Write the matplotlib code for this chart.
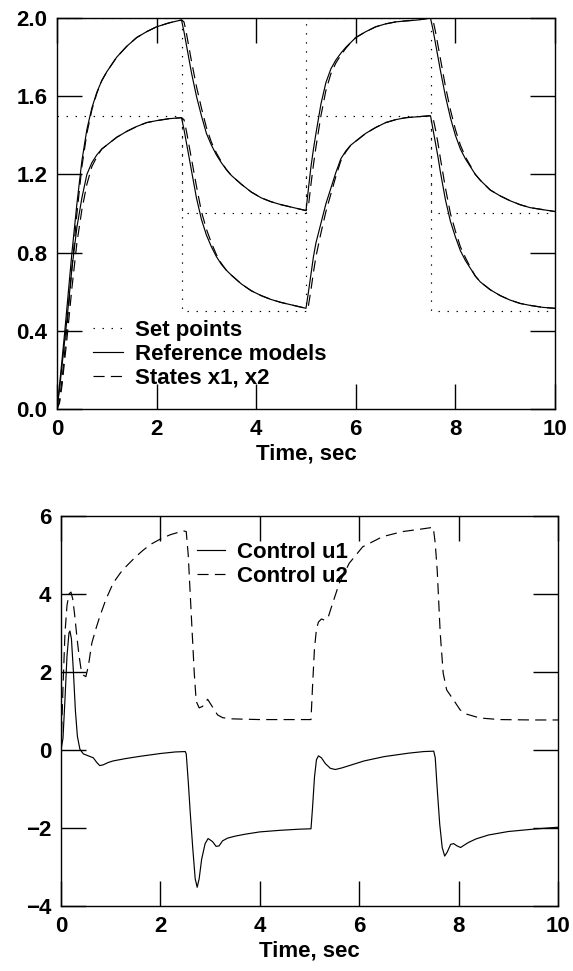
import matplotlib
matplotlib.use("Agg")
import matplotlib.pyplot as plt
from matplotlib.ticker import FixedLocator, FuncFormatter

plt.rcParams['font.family'] = ['Liberation Sans', 'DejaVu Sans']
plt.rcParams['lines.scale_dashes'] = False

# ---------------- top panel data ----------------
t_top = [0, 0.05, 0.1, 0.15, 0.2, 0.3, 0.4, 0.5, 0.6, 0.7, 0.8, 0.9, 1.0, 1.2, 1.4, 1.6, 1.8, 2.0, 2.25,
         2.5, 2.55, 2.6, 2.65, 2.7, 2.8, 2.9, 3.0, 3.1, 3.2, 3.3, 3.4, 3.5, 3.7, 3.9, 4.1, 4.3, 4.5, 4.75,
         5.0, 5.05, 5.1, 5.15, 5.2, 5.3, 5.4, 5.5, 5.6, 5.7, 5.8, 5.9, 6.0, 6.2, 6.4, 6.6, 6.8, 7.0, 7.25,
         7.5, 7.55, 7.6, 7.65, 7.7, 7.8, 7.9, 8.0, 8.1, 8.2, 8.3, 8.4, 8.5, 8.7, 8.9, 9.1, 9.3, 9.5, 9.75, 10.0]

ref_x1 = [0, 0.12, 0.25, 0.38, 0.52, 0.80, 1.05, 1.27, 1.43, 1.54, 1.62, 1.68, 1.725, 1.80, 1.855, 1.90, 1.93, 1.955, 1.975,
          1.99, 1.93, 1.86, 1.79, 1.72, 1.60, 1.50, 1.41, 1.35, 1.30, 1.26, 1.225, 1.195, 1.15, 1.11, 1.08, 1.06, 1.045, 1.03,
          1.015, 1.13, 1.24, 1.33, 1.41, 1.56, 1.67, 1.74, 1.785, 1.82, 1.85, 1.875, 1.90, 1.93, 1.955, 1.97, 1.98, 1.985, 1.99,
          2.0, 1.94, 1.87, 1.80, 1.73, 1.60, 1.49, 1.40, 1.33, 1.28, 1.24, 1.20, 1.17, 1.12, 1.09, 1.065, 1.045, 1.03, 1.02, 1.01]

ref_x2 = [0, 0.10, 0.22, 0.34, 0.46, 0.72, 0.93, 1.08, 1.20, 1.26, 1.30, 1.33, 1.35, 1.39, 1.42, 1.445, 1.465, 1.475, 1.485,
          1.49, 1.43, 1.36, 1.29, 1.22, 1.08, 0.97, 0.89, 0.83, 0.78, 0.74, 0.71, 0.685, 0.64, 0.605, 0.58, 0.56, 0.545, 0.53,
          0.515, 0.60, 0.69, 0.78, 0.85, 0.95, 1.05, 1.13, 1.21, 1.28, 1.32, 1.35, 1.37, 1.41, 1.44, 1.465, 1.48, 1.49, 1.495,
          1.50, 1.43, 1.36, 1.29, 1.21, 1.07, 0.96, 0.88, 0.81, 0.76, 0.72, 0.68, 0.65, 0.61, 0.58, 0.557, 0.54, 0.53, 0.52, 0.515]

state_x1 = [0, 0.04, 0.15, 0.28, 0.42, 0.72, 1.00, 1.24, 1.41, 1.53, 1.615, 1.68, 1.725, 1.80, 1.855, 1.90, 1.93, 1.955, 1.975,
            1.99, 1.98, 1.92, 1.85, 1.78, 1.65, 1.54, 1.44, 1.365, 1.31, 1.265, 1.225, 1.195, 1.15, 1.11, 1.08, 1.06, 1.045, 1.03,
            1.015, 1.04, 1.15, 1.25, 1.34, 1.50, 1.63, 1.715, 1.77, 1.81, 1.845, 1.875, 1.90, 1.93, 1.955, 1.97, 1.98, 1.985, 1.99,
            2.0, 1.99, 1.93, 1.86, 1.79, 1.65, 1.53, 1.43, 1.35, 1.29, 1.245, 1.20, 1.17, 1.12, 1.09, 1.065, 1.045, 1.03, 1.02, 1.01]

state_x2 = [0, 0.03, 0.12, 0.24, 0.36, 0.62, 0.85, 1.02, 1.15, 1.24, 1.29, 1.33, 1.35, 1.39, 1.42, 1.445, 1.465, 1.475, 1.485,
            1.49, 1.48, 1.42, 1.35, 1.28, 1.14, 1.01, 0.92, 0.85, 0.79, 0.745, 0.71, 0.685, 0.64, 0.605, 0.58, 0.56, 0.545, 0.53,
            0.515, 0.53, 0.61, 0.70, 0.78, 0.90, 1.01, 1.10, 1.19, 1.27, 1.315, 1.35, 1.37, 1.41, 1.44, 1.465, 1.48, 1.49, 1.495,
            1.50, 1.49, 1.43, 1.36, 1.28, 1.13, 1.00, 0.91, 0.83, 0.775, 0.725, 0.68, 0.65, 0.61, 0.58, 0.557, 0.54, 0.53, 0.52, 0.515]

t_sp = [0, 2.5, 2.5, 5, 5, 7.5, 7.5, 10]
sp_x1 = [2.0, 2.0, 1.0, 1.0, 2.0, 2.0, 1.0, 1.0]
sp_x2 = [1.5, 1.5, 0.5, 0.5, 1.5, 1.5, 0.5, 0.5]

# ---------------- bottom panel data ----------------
t_u1 = [0, 0.04, 0.08, 0.12, 0.16, 0.18, 0.21, 0.25, 0.29, 0.33, 0.38, 0.45, 0.55, 0.65, 0.72, 0.78, 0.85, 0.95, 1.05, 1.3, 1.6, 2.0, 2.3, 2.5,
        2.52, 2.56, 2.6, 2.65, 2.7, 2.74, 2.78, 2.83, 2.9, 2.96, 3.05, 3.12, 3.18, 3.25, 3.35, 3.5, 3.7, 4.0, 4.4, 4.8, 5.03,
        5.06, 5.1, 5.14, 5.18, 5.24, 5.32, 5.42, 5.52, 5.65, 5.85, 6.1, 6.5, 7.0, 7.3, 7.5,
        7.53, 7.57, 7.62, 7.67, 7.72, 7.77, 7.84, 7.9, 7.97, 8.04, 8.1, 8.2, 8.35, 8.6, 9.0, 9.5, 10.0]
u1 = [0, 0.3, 1.3, 2.4, 3.0, 3.05, 2.85, 2.0, 1.0, 0.35, 0.02, -0.1, -0.15, -0.2, -0.32, -0.4, -0.38, -0.32, -0.28, -0.22, -0.16, -0.09, -0.05, -0.04,
      -0.1, -0.8, -1.6, -2.5, -3.3, -3.52, -3.3, -2.8, -2.4, -2.27, -2.35, -2.47, -2.46, -2.33, -2.26, -2.21, -2.16, -2.1, -2.06, -2.03, -2.02,
      -1.5, -0.7, -0.25, -0.15, -0.2, -0.35, -0.47, -0.5, -0.46, -0.38, -0.28, -0.17, -0.08, -0.04, -0.03,
      -0.2, -1.0, -1.9, -2.5, -2.72, -2.62, -2.42, -2.4, -2.46, -2.5, -2.45, -2.37, -2.28, -2.18, -2.09, -2.03, -1.98]

t_u2 = [0, 0.04, 0.08, 0.12, 0.16, 0.2, 0.24, 0.28, 0.32, 0.36, 0.4, 0.45, 0.5, 0.55, 0.62, 0.7, 0.78, 0.9, 1.05, 1.2, 1.32, 1.5, 1.65, 1.8, 2.0, 2.2, 2.46, 2.52,
        2.56, 2.6, 2.64, 2.68, 2.72, 2.78, 2.85, 2.95, 3.05, 3.15, 3.25, 3.4, 4.0, 4.6, 5.03,
        5.06, 5.1, 5.14, 5.18, 5.24, 5.3, 5.37, 5.45, 5.6, 5.8, 6.07, 6.47, 6.87, 7.22, 7.49,
        7.53, 7.57, 7.63, 7.69, 7.76, 7.9, 8.03, 8.16, 8.43, 8.83, 9.5, 10.0]
u2 = [0.0, 1.6, 3.0, 3.7, 4.0, 4.05, 3.85, 3.4, 2.9, 2.45, 2.1, 1.92, 1.88, 2.15, 2.74, 3.1, 3.42, 3.85, 4.28, 4.55, 4.72, 4.95, 5.12, 5.27, 5.41, 5.52, 5.62, 5.6,
      5.0, 4.0, 3.0, 2.0, 1.25, 1.08, 1.12, 1.3, 1.1, 0.9, 0.83, 0.8, 0.78, 0.78, 0.78,
      1.6, 2.6, 3.1, 3.28, 3.36, 3.33, 3.38, 3.7, 4.28, 4.79, 5.21, 5.47, 5.6, 5.66, 5.71,
      5.3, 4.6, 3.0, 1.97, 1.54, 1.28, 1.03, 0.92, 0.82, 0.78, 0.77, 0.77]

top_xticks = [0, 2, 4, 6, 8, 10]
top_yticks = [0.0, 0.4, 0.8, 1.2, 1.6, 2.0]
bot_yticks = [-4, -2, 0, 2, 4, 6]
xlabel = "Time, sec"

# ---------------- styling ----------------
FS = 16
LW = 0.85
DOT = (0, (1.0, 5.5))
DASH = (0, (8, 4.5))

fig = plt.figure(figsize=(5.73, 9.71), dpi=100)
ax1 = fig.add_axes([57/573, 1-409/971, (555-57)/573, (409-18)/971])
ax2 = fig.add_axes([61/573, 1-906/971, (558-61)/573, (906-516)/971])

def style(ax, yticks, fmt):
    ax.set_xlim(0, 10)
    ax.set_ylim(yticks[0], yticks[-1])
    ax.xaxis.set_major_locator(FixedLocator(top_xticks))
    ax.yaxis.set_major_locator(FixedLocator(yticks))
    ax.yaxis.set_major_formatter(FuncFormatter(fmt))
    ax.tick_params(direction='in', length=18, width=1.0, top=True, right=True,
                   labelsize=FS, pad=7, color='black')
    for lab in ax.get_xticklabels() + ax.get_yticklabels():
        lab.set_fontweight('bold')
    for s in ax.spines.values():
        s.set_linewidth(1.0)
    ax.set_xlabel(xlabel, fontsize=FS, fontweight='bold', labelpad=3)

# top panel
ax1.plot(t_sp, sp_x1, color='black', lw=LW, linestyle=DOT, label='Set points')
ax1.plot(t_sp, sp_x2, color='black', lw=LW, linestyle=DOT)
ax1.plot(t_top, ref_x1, color='black', lw=LW, label='Reference models')
ax1.plot(t_top, ref_x2, color='black', lw=LW)
ax1.plot(t_top, state_x1, color='black', lw=LW, linestyle=DASH, label='States x1, x2')
ax1.plot(t_top, state_x2, color='black', lw=LW, linestyle=DASH)
style(ax1, top_yticks, lambda v, p: f"{v:.1f}")
ax1.legend(loc='upper left', bbox_to_anchor=(93/573, 1-320/971), bbox_transform=fig.transFigure,
           frameon=False, prop={'weight': 'bold', 'size': FS},
           handlelength=1.35, handletextpad=0.55, labelspacing=0.12,
           borderpad=0, borderaxespad=0)

# bottom panel
ax2.plot(t_u1, u1, color='black', lw=LW, label='Control u1')
ax2.plot(t_u2, u2, color='black', lw=LW, linestyle=DASH, label='Control u2')
style(ax2, bot_yticks, lambda v, p: f"{int(v)}".replace('-', '\u2212'))
ax2.legend(loc='upper left', bbox_to_anchor=(197/573, 1-542/971), bbox_transform=fig.transFigure,
           frameon=False, prop={'weight': 'bold', 'size': FS},
           handlelength=1.25, handletextpad=0.55, labelspacing=0.12,
           borderpad=0, borderaxespad=0)

fig.savefig('out.png', dpi=100)
